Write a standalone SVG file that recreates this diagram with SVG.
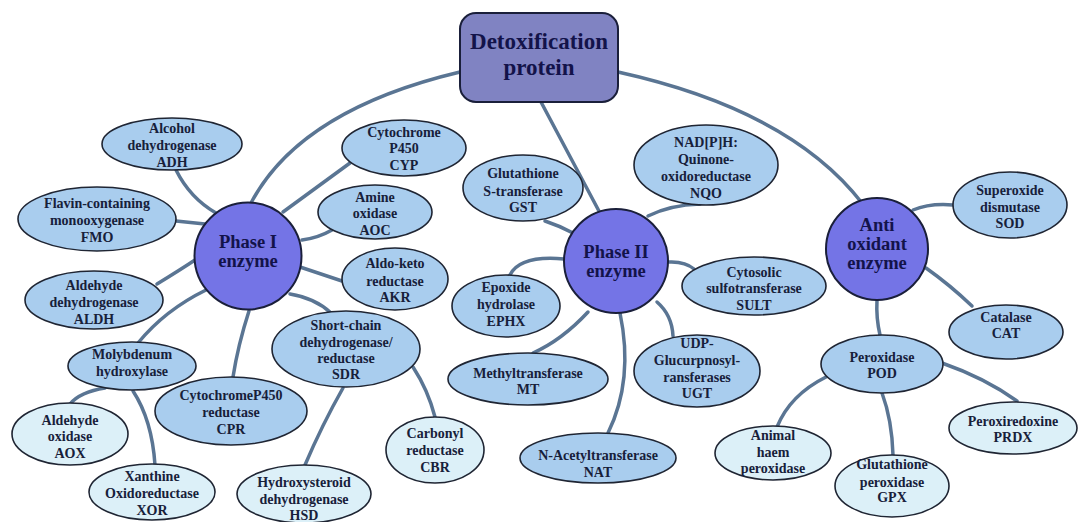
<svg xmlns="http://www.w3.org/2000/svg" width="1079" height="522" viewBox="0 0 1079 522">
<style>
.c{fill:none;stroke:#5a7593;stroke-width:3.5;stroke-linecap:round}
.e{fill:#a9cdee;stroke:#1f2533;stroke-width:1.6}
.l{fill:#dcf0f8;stroke:#1f2533;stroke-width:1.6}
.h{fill:#7474e6;stroke:#1a1f3a;stroke-width:2}
.r{fill:#8083c2;stroke:#1a1f3a;stroke-width:2}
text{font-family:"Liberation Serif","Times New Roman",serif;font-weight:bold;text-anchor:middle;fill:#17203a;font-size:14px}
.t{font-size:18.5px;fill:#13134a}
.rt{font-size:23px;fill:#13134a}
</style>
<rect width="1079" height="522" fill="#ffffff"/>
<g id="connectors">
<path class="c" d="M460,72 Q300,110 251,203"/>
<path class="c" d="M541,102 L600,213"/>
<path class="c" d="M618,72 Q790,110 862,203"/>
<path class="c" d="M176,170 Q190,198 216,213"/>
<path class="c" d="M176,221 L205,224"/>
<path class="c" d="M157,284 Q180,270 198,258"/>
<path class="c" d="M138,343 Q165,310 206,290"/>
<path class="c" d="M249,311 Q238,345 233,377"/>
<path class="c" d="M290,294 Q315,298 331,313"/>
<path class="c" d="M300,267 L342,281"/>
<path class="c" d="M302,240 Q318,238 332,230"/>
<path class="c" d="M283,212 L350,163"/>
<path class="c" d="M105,388 Q80,392 70,404"/>
<path class="c" d="M133,391 Q152,420 155,465"/>
<path class="c" d="M343,388 Q322,425 305,465"/>
<path class="c" d="M413,367 Q428,390 435,417"/>
<path class="c" d="M545,221 Q560,226 573,233"/>
<path class="c" d="M648,216 Q670,205 700,204"/>
<path class="c" d="M564,259 Q520,255 510,275"/>
<path class="c" d="M588,312 Q562,340 533,353"/>
<path class="c" d="M620,313 Q634,380 608,433"/>
<path class="c" d="M657,302 Q672,315 673,336"/>
<path class="c" d="M668,262 Q685,261 694,269"/>
<path class="c" d="M913,210 Q930,203 953,205"/>
<path class="c" d="M926,268 Q950,285 972,306"/>
<path class="c" d="M877,300 Q876,318 880,335"/>
<path class="c" d="M826,377 Q790,395 777,427"/>
<path class="c" d="M882,393 Q892,420 893,455"/>
<path class="c" d="M942,363 Q985,378 1017,401"/>
</g>
<g id="root"><rect class="r" x="460" y="13" width="158" height="89" rx="16"/><text class="rt" x="539" y="49">Detoxification</text><text class="rt" x="539" y="75">protein</text></g>
<g id="phase1"><circle class="h" cx="248" cy="256" r="53.5"/><text class="t" x="248" y="248">Phase I</text><text class="t" x="248" y="267">enzyme</text></g>
<g id="phase2"><circle class="h" cx="616" cy="261" r="52"/><text class="t" x="616" y="258">Phase II</text><text class="t" x="616" y="277">enzyme</text></g>
<g id="antiox"><circle class="h" cx="877" cy="249" r="51"/><text class="t" x="877" y="231">Anti</text><text class="t" x="877" y="250">oxidant</text><text class="t" x="877" y="269">enzyme</text></g>
<g id="adh"><ellipse class="e" cx="172" cy="144" rx="70" ry="26"/><text x="172" y="133">Alcohol</text><text x="172" y="150">dehydrogenase</text><text x="172" y="167">ADH</text></g>
<g id="fmo"><ellipse class="e" cx="97" cy="219" rx="79" ry="32"/><text x="97" y="208">Flavin-containing</text><text x="97" y="225">monooxygenase</text><text x="97" y="242">FMO</text></g>
<g id="aldh"><ellipse class="e" cx="94" cy="300" rx="69" ry="29"/><text x="94" y="290">Aldehyde</text><text x="94" y="307">dehydrogenase</text><text x="94" y="324">ALDH</text></g>
<g id="moly"><ellipse class="e" cx="132" cy="366" rx="64" ry="24"/><text x="132" y="359">Molybdenum</text><text x="132" y="376">hydroxylase</text></g>
<g id="cpr"><ellipse class="e" cx="231" cy="411" rx="76" ry="34"/><text x="231" y="400">CytochromeP450</text><text x="231" y="417">reductase</text><text x="231" y="434">CPR</text></g>
<g id="aox"><ellipse class="l" cx="70" cy="434" rx="58" ry="31"/><text x="70" y="425">Aldehyde</text><text x="70" y="441">oxidase</text><text x="70" y="458">AOX</text></g>
<g id="xor"><ellipse class="l" cx="152" cy="492" rx="63" ry="28"/><text x="152" y="481">Xanthine</text><text x="152" y="498">Oxidoreductase</text><text x="152" y="515">XOR</text></g>
<g id="hsd"><ellipse class="l" cx="304" cy="494" rx="67" ry="29"/><text x="304" y="487">Hydroxysteroid</text><text x="304" y="504">dehydrogenase</text><text x="304" y="520">HSD</text></g>
<g id="sdr"><ellipse class="e" cx="346" cy="349" rx="74" ry="38"/><text x="346" y="330">Short-chain</text><text x="346" y="347">dehydrogenase/</text><text x="346" y="363">reductase</text><text x="346" y="379">SDR</text></g>
<g id="cbr"><ellipse class="l" cx="435" cy="450" rx="49" ry="33"/><text x="435" y="438">Carbonyl</text><text x="435" y="455">reductase</text><text x="435" y="472">CBR</text></g>
<g id="akr"><ellipse class="e" cx="395" cy="279" rx="53" ry="31"/><text x="395" y="268">Aldo-keto</text><text x="395" y="286">reductase</text><text x="395" y="302">AKR</text></g>
<g id="aoc"><ellipse class="e" cx="375" cy="212" rx="57" ry="27"/><text x="375" y="202">Amine</text><text x="375" y="218">oxidase</text><text x="375" y="235">AOC</text></g>
<g id="cyp"><ellipse class="e" cx="404" cy="148" rx="62" ry="28"/><text x="404" y="137">Cytochrome</text><text x="404" y="153">P450</text><text x="404" y="170">CYP</text></g>
<g id="gst"><ellipse class="e" cx="523" cy="188" rx="60" ry="33"/><text x="523" y="178">Glutathione</text><text x="523" y="196">S-transferase</text><text x="523" y="212">GST</text></g>
<g id="nqo"><ellipse class="e" cx="706" cy="165" rx="72" ry="40"/><text x="706" y="147">NAD[P]H:</text><text x="706" y="164">Quinone-</text><text x="706" y="181">oxidoreductase</text><text x="706" y="198">NQO</text></g>
<g id="ephx"><ellipse class="e" cx="506" cy="306" rx="54" ry="31"/><text x="506" y="292">Epoxide</text><text x="506" y="309">hydrolase</text><text x="506" y="326">EPHX</text></g>
<g id="mt"><ellipse class="e" cx="528" cy="379" rx="80" ry="26"/><text x="528" y="378">Methyltransferase</text><text x="528" y="394">MT</text></g>
<g id="nat"><ellipse class="e" cx="598" cy="458" rx="78" ry="25"/><text x="598" y="460">N-Acetyltransferase</text><text x="598" y="477">NAT</text></g>
<g id="sult"><ellipse class="e" cx="754" cy="286" rx="72" ry="29"/><text x="754" y="277">Cytosolic</text><text x="754" y="293">sulfotransferase</text><text x="754" y="310">SULT</text></g>
<g id="ugt"><ellipse class="e" cx="697" cy="371" rx="63" ry="36"/><text x="697" y="348">UDP-</text><text x="697" y="365">Glucurpnosyl-</text><text x="697" y="382">ransferases</text><text x="697" y="398">UGT</text></g>
<g id="sod"><ellipse class="e" cx="1010" cy="205" rx="57" ry="33"/><text x="1010" y="195">Superoxide</text><text x="1010" y="212">dismutase</text><text x="1010" y="228">SOD</text></g>
<g id="cat"><ellipse class="e" cx="1006" cy="332" rx="57" ry="27"/><text x="1006" y="322">Catalase</text><text x="1006" y="338">CAT</text></g>
<g id="pod"><ellipse class="e" cx="882" cy="364" rx="61" ry="29"/><text x="882" y="362">Peroxidase</text><text x="882" y="378">POD</text></g>
<g id="animal"><ellipse class="l" cx="773" cy="453" rx="58" ry="27"/><text x="773" y="440">Animal</text><text x="773" y="457">haem</text><text x="773" y="473">peroxidase</text></g>
<g id="gpx"><ellipse class="l" cx="892" cy="486" rx="57" ry="31"/><text x="892" y="469">Glutathione</text><text x="892" y="487">peroxidase</text><text x="892" y="502">GPX</text></g>
<g id="prdx"><ellipse class="l" cx="1013" cy="428" rx="64" ry="26"/><text x="1013" y="426">Peroxiredoxine</text><text x="1013" y="442">PRDX</text></g>
</svg>
